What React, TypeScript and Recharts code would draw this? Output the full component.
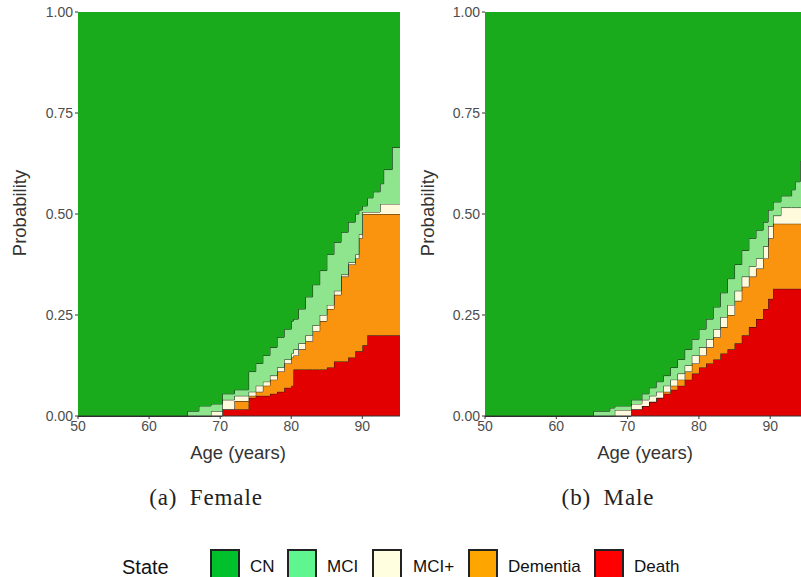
import React from 'react'
import { AreaChart, Area, XAxis, YAxis } from 'recharts'

const stateNames = ['CN', 'MCI', 'MCI+', 'Dementia', 'Death']
const legendColors = ['#00c12b', '#5ff58f', '#ffffe0', '#ffa500', '#ff0000']
const fillColors = ['#19ab1b', '#8ee58e', '#fffadb', '#fa940f', '#e30000']

const xTicks = [50, 60, 70, 80, 90]
const yTicks = [0, 0.25, 0.5, 0.75, 1]

// upper edge of each band (cumulative from the bottom: death, dementia, MCI+, MCI)
const femaleAges = [50, 65.4, 67, 68.7, 70.3, 72, 74, 75, 76, 77, 78, 79, 80, 80.3, 81, 82, 83, 84, 85, 86, 87, 88, 89, 89.5, 90, 90.7, 91.5, 92.5, 93, 94.2, 95.3]
const femaleDeath = [0, 0, 0, 0, 0.017, 0.017, 0.045, 0.05, 0.05, 0.055, 0.06, 0.07, 0.075, 0.115, 0.115, 0.115, 0.115, 0.115, 0.12, 0.135, 0.135, 0.145, 0.16, 0.16, 0.175, 0.2, 0.2, 0.2, 0.2, 0.2, 0.2]
const femaleDementia = [0, 0, 0, 0, 0.017, 0.037, 0.05, 0.06, 0.075, 0.09, 0.11, 0.13, 0.145, 0.15, 0.165, 0.185, 0.21, 0.235, 0.265, 0.3, 0.345, 0.375, 0.39, 0.44, 0.5, 0.5, 0.5, 0.5, 0.5, 0.5, 0.5]
const femaleMciPlus = [0, 0, 0, 0.012, 0.04, 0.05, 0.06, 0.075, 0.085, 0.1, 0.12, 0.14, 0.155, 0.165, 0.18, 0.2, 0.225, 0.25, 0.275, 0.31, 0.35, 0.38, 0.4, 0.45, 0.505, 0.505, 0.505, 0.525, 0.525, 0.525, 0.525]
const femaleMci = [0, 0.012, 0.025, 0.03, 0.055, 0.065, 0.11, 0.13, 0.15, 0.17, 0.195, 0.215, 0.235, 0.24, 0.265, 0.295, 0.325, 0.36, 0.4, 0.43, 0.455, 0.48, 0.5, 0.51, 0.52, 0.54, 0.555, 0.575, 0.61, 0.665, 0.665]

const maleAges = [50, 65.2, 67.5, 68.2, 70.5, 72, 73, 74, 75, 76, 77, 78, 79, 80, 81, 82, 83, 84, 85, 86, 87, 88, 89, 89.7, 90.4, 91.5, 93, 93.5, 94.2, 95.3]
const maleDeath = [0, 0, 0, 0, 0.017, 0.025, 0.035, 0.045, 0.055, 0.065, 0.075, 0.09, 0.105, 0.12, 0.13, 0.14, 0.155, 0.165, 0.18, 0.2, 0.22, 0.24, 0.265, 0.29, 0.315, 0.315, 0.315, 0.315, 0.315, 0.315]
const maleDementia = [0, 0, 0, 0, 0.017, 0.025, 0.035, 0.045, 0.06, 0.075, 0.09, 0.11, 0.13, 0.15, 0.17, 0.195, 0.22, 0.25, 0.285, 0.32, 0.345, 0.365, 0.39, 0.44, 0.476, 0.476, 0.476, 0.476, 0.476, 0.476]
const maleMciPlus = [0, 0, 0, 0.015, 0.03, 0.04, 0.05, 0.06, 0.075, 0.09, 0.105, 0.125, 0.15, 0.17, 0.19, 0.215, 0.245, 0.275, 0.31, 0.345, 0.37, 0.39, 0.42, 0.47, 0.496, 0.516, 0.516, 0.516, 0.516, 0.516]
const maleMci = [0, 0.012, 0.02, 0.025, 0.04, 0.055, 0.07, 0.085, 0.1, 0.12, 0.14, 0.165, 0.19, 0.215, 0.24, 0.27, 0.305, 0.34, 0.375, 0.41, 0.44, 0.46, 0.48, 0.51, 0.53, 0.545, 0.56, 0.58, 0.63, 0.63]

function buildRows(ages: number[], death: number[], dem: number[], plus: number[], mci: number[]) {
  return ages.map((age, i) => ({
    age,
    Death: death[i],
    Dementia: dem[i] - death[i],
    'MCI+': plus[i] - dem[i],
    MCI: mci[i] - plus[i],
    CN: 1 - mci[i],
  }))
}

const femaleRows = buildRows(femaleAges, femaleDeath, femaleDementia, femaleMciPlus, femaleMci)
const maleRows = buildRows(maleAges, maleDeath, maleDementia, maleMciPlus, maleMci)

const tickStyle = { fontSize: 14, fill: '#4d4d4d', fontFamily: 'Liberation Sans, Arial, sans-serif' }

function Panel(props: { rows: any[]; left: number; width: number; right: number }) {
  const stackOrder = [4, 3, 2, 1, 0]
  return (
    <div style={{ position: 'absolute', left: props.left, top: 0 }}>
      <AreaChart width={props.width} height={470} data={props.rows} margin={{ top: 12, right: props.right, bottom: 24, left: 0 }}>
        <XAxis dataKey="age" type="number" domain={[50, 95.3]} ticks={xTicks} interval={0} allowDataOverflow
          height={30} tickSize={3} tick={tickStyle} stroke="#333" />
        <YAxis type="number" domain={[0, 1]} ticks={yTicks} interval={0} width={78} tickSize={3}
          axisLine={false} tick={tickStyle} stroke="#333" tickFormatter={(v: number) => v.toFixed(2)} />
        {stackOrder.map((i) => (
          <Area key={stateNames[i]} type="stepAfter" dataKey={stateNames[i]} stackId="s"
            fill={fillColors[i]} fillOpacity={1} stroke={i === 0 ? 'none' : '#1a1a1a'} strokeWidth={1}
            dot={false} activeDot={false} isAnimationActive={false} />
        ))}
      </AreaChart>
    </div>
  )
}

function Text(props: { x: number; y: number; size: number; children: any; rotate?: boolean; serif?: boolean; color?: string; anchor?: 'start' | 'middle' }) {
  const tx = props.anchor === 'start' ? '0' : '-50%'
  return (
    <div style={{
      position: 'absolute', left: props.x, top: props.y, whiteSpace: 'pre', lineHeight: 1,
      fontSize: props.size, color: props.color || '#222',
      fontFamily: props.serif ? 'Liberation Serif, serif' : 'Liberation Sans, Arial, sans-serif',
      letterSpacing: props.serif ? 0.9 : 0,
      transform: `translate(${tx}, -50%)` + (props.rotate ? ' rotate(-90deg)' : ''),
    }}>{props.children}</div>
  )
}

const legendBoxX = [210, 287, 372, 468, 594]
const legendTextX = [250, 327, 413, 508, 634]

export default function App() {
  return (
    <div style={{ position: 'absolute', left: 0, top: 0, width: 801, height: 577, overflow: 'hidden', background: '#fff' }}>
      <Panel rows={femaleRows} left={0} width={410} right={10} />
      <Panel rows={maleRows} left={407} width={401} right={0} />
      <Text x={20} y={213} size={18.5} rotate color="#333">Probability</Text>
      <Text x={428} y={213} size={18.5} rotate color="#333">Probability</Text>
      <Text x={238} y={453} size={18.5} color="#333">Age (years)</Text>
      <Text x={645} y={453} size={18.5} color="#333">Age (years)</Text>
      <Text x={206} y={497} size={23} serif>{'(a)\u2002Female'}</Text>
      <Text x={608} y={497} size={23} serif>{'(b)\u2002Male'}</Text>
      <Text x={122} y={567} size={20} anchor="start" color="#111">State</Text>
      {stateNames.map((s, i) => (
        <React.Fragment key={s}>
          <div style={{ position: 'absolute', left: legendBoxX[i], top: 549, width: 26, height: 40, background: legendColors[i], border: '2px solid #222' }} />
          <Text x={legendTextX[i]} y={566} size={17} anchor="start" color="#111">{s}</Text>
        </React.Fragment>
      ))}
    </div>
  )
}
